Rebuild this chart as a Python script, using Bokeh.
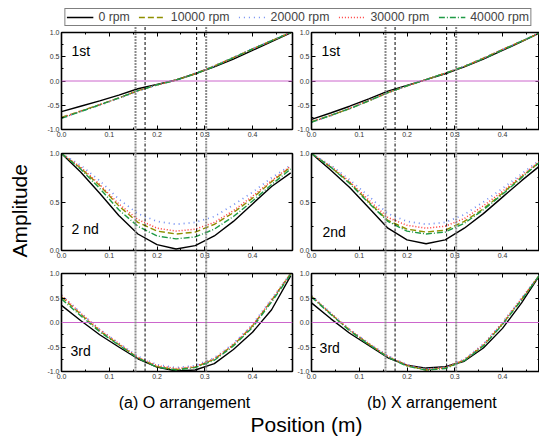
import math
from bokeh.plotting import figure
from bokeh.layouts import column, row
from bokeh.models import (LinearAxis, SingleIntervalTicker, Span, Label, Legend,
                          LegendItem, Range1d, NumeralTickFormatter)
from bokeh.core.properties import value
from bokeh.embed import file_html
from bokeh.resources import INLINE

# ---------------- data ----------------
positions = [0.00, 0.04, 0.08, 0.12, 0.16, 0.20, 0.24, 0.28, 0.32, 0.36, 0.40, 0.44, 0.48]
speeds = ["0 rpm", "10000 rpm", "20000 rpm", "30000 rpm", "40000 rpm"]
mode_labels_O = ["1st", "2 nd", "3rd"]
mode_labels_X = ["1st", "2nd", "3rd"]
arrangement_titles = ["(a) O arrangement", "(b) X arrangement"]
bearing_positions = [0.155, 0.175, 0.283, 0.303]

# O arrangement
O_1st_0 = [-0.63, -0.52, -0.41, -0.29, -0.16, -0.07, 0.02, 0.15, 0.29, 0.45, 0.63, 0.81, 0.99]
O_1st_10000 = [-0.75, -0.62, -0.49, -0.35, -0.20, -0.08, 0.02, 0.15, 0.31, 0.48, 0.66, 0.83, 1.00]
O_1st_20000 = [-0.77, -0.63, -0.50, -0.36, -0.21, -0.08, 0.02, 0.16, 0.31, 0.49, 0.67, 0.84, 1.00]
O_1st_30000 = [-0.76, -0.62, -0.49, -0.35, -0.20, -0.08, 0.02, 0.15, 0.31, 0.48, 0.66, 0.83, 1.00]
O_1st_40000 = [-0.77, -0.63, -0.49, -0.35, -0.20, -0.08, 0.02, 0.15, 0.30, 0.48, 0.66, 0.83, 1.00]

O_2nd_0 = [1.00, 0.81, 0.59, 0.36, 0.17, 0.06, 0.015, 0.05, 0.15, 0.30, 0.48, 0.66, 0.80]
O_2nd_10000 = [1.00, 0.85, 0.67, 0.46, 0.29, 0.20, 0.17, 0.19, 0.27, 0.39, 0.54, 0.71, 0.86]
O_2nd_20000 = [1.00, 0.88, 0.72, 0.53, 0.38, 0.30, 0.27, 0.29, 0.35, 0.47, 0.60, 0.75, 0.88]
O_2nd_30000 = [1.00, 0.86, 0.68, 0.48, 0.32, 0.23, 0.20, 0.22, 0.29, 0.41, 0.56, 0.72, 0.87]
O_2nd_40000 = [1.00, 0.84, 0.64, 0.42, 0.25, 0.15, 0.12, 0.14, 0.22, 0.35, 0.51, 0.68, 0.84]

O_3rd_0 = [0.35, 0.04, -0.25, -0.50, -0.74, -0.91, -0.99, -0.97, -0.84, -0.55, -0.20, 0.26, 0.95]
O_3rd_10000 = [0.52, 0.17, -0.17, -0.45, -0.72, -0.90, -0.96, -0.91, -0.75, -0.46, -0.07, 0.45, 1.00]
O_3rd_20000 = [0.56, 0.20, -0.14, -0.42, -0.69, -0.86, -0.92, -0.88, -0.72, -0.43, -0.04, 0.48, 1.00]
O_3rd_30000 = [0.55, 0.19, -0.15, -0.43, -0.71, -0.88, -0.94, -0.90, -0.74, -0.45, -0.06, 0.46, 1.00]
O_3rd_40000 = [0.48, 0.14, -0.19, -0.46, -0.73, -0.91, -0.97, -0.92, -0.77, -0.48, -0.10, 0.42, 0.98]

# X arrangement
X_1st_0 = [-0.79, -0.66, -0.52, -0.37, -0.21, -0.09, 0.03, 0.15, 0.29, 0.45, 0.63, 0.81, 1.00]
X_1st_10000 = [-0.84, -0.71, -0.57, -0.41, -0.24, -0.10, 0.03, 0.16, 0.30, 0.47, 0.65, 0.82, 1.00]
X_1st_20000 = [-0.85, -0.72, -0.57, -0.41, -0.24, -0.10, 0.03, 0.16, 0.31, 0.47, 0.65, 0.83, 1.00]
X_1st_30000 = [-0.84, -0.71, -0.56, -0.40, -0.24, -0.10, 0.03, 0.16, 0.30, 0.47, 0.65, 0.82, 1.00]
X_1st_40000 = [-0.85, -0.71, -0.57, -0.41, -0.24, -0.10, 0.03, 0.16, 0.30, 0.46, 0.64, 0.82, 1.00]

X_2nd_0 = [1.00, 0.83, 0.65, 0.44, 0.23, 0.11, 0.07, 0.11, 0.23, 0.38, 0.55, 0.72, 0.88]
X_2nd_10000 = [1.00, 0.86, 0.70, 0.50, 0.31, 0.22, 0.19, 0.21, 0.30, 0.43, 0.59, 0.76, 0.92]
X_2nd_20000 = [1.00, 0.88, 0.73, 0.56, 0.38, 0.30, 0.27, 0.29, 0.37, 0.50, 0.64, 0.79, 0.94]
X_2nd_30000 = [1.00, 0.87, 0.71, 0.52, 0.34, 0.26, 0.23, 0.25, 0.33, 0.46, 0.61, 0.77, 0.93]
X_2nd_40000 = [1.00, 0.86, 0.69, 0.49, 0.30, 0.20, 0.17, 0.19, 0.28, 0.42, 0.58, 0.75, 0.92]

X_3rd_0 = [0.40, 0.08, -0.22, -0.47, -0.72, -0.87, -0.93, -0.90, -0.79, -0.52, -0.12, 0.40, 1.00]
X_3rd_10000 = [0.53, 0.18, -0.16, -0.44, -0.70, -0.88, -0.97, -0.93, -0.77, -0.47, -0.03, 0.47, 1.00]
X_3rd_20000 = [0.55, 0.20, -0.14, -0.42, -0.68, -0.86, -0.95, -0.92, -0.75, -0.44, 0.00, 0.50, 1.00]
X_3rd_30000 = [0.54, 0.19, -0.15, -0.43, -0.69, -0.87, -0.96, -0.92, -0.76, -0.45, -0.01, 0.49, 1.00]
X_3rd_40000 = [0.52, 0.17, -0.17, -0.45, -0.71, -0.89, -0.97, -0.94, -0.78, -0.48, -0.04, 0.46, 1.00]

O_modes = [
    [O_1st_0, O_1st_10000, O_1st_20000, O_1st_30000, O_1st_40000],
    [O_2nd_0, O_2nd_10000, O_2nd_20000, O_2nd_30000, O_2nd_40000],
    [O_3rd_0, O_3rd_10000, O_3rd_20000, O_3rd_30000, O_3rd_40000],
]
X_modes = [
    [X_1st_0, X_1st_10000, X_1st_20000, X_1st_30000, X_1st_40000],
    [X_2nd_0, X_2nd_10000, X_2nd_20000, X_2nd_30000, X_2nd_40000],
    [X_3rd_0, X_3rd_10000, X_3rd_20000, X_3rd_30000, X_3rd_40000],
]
mode_y_ranges = [(-1.0, 1.0), (0.0, 1.0), (-1.0, 1.0)]

# ---------------- styles / layout ----------------
FONT = "Liberation Sans"
series_colors = ["#000000", "#8f8f00", "#6f8cf2", "#ff3a3a", "#1f9a45"]
series_dashes = ["solid", "6 3", "1 4", "1 2", "6 2 1 2"]
series_widths = [1.4, 1.4, 1.7, 1.5, 1.4]
bearing_colors = ["#8a8a8a", "#000000", "#000000", "#8a8a8a"]
bearing_widths = [2.0, 1.0, 1.0, 2.0]
bearing_dashes = ["2 1", "3 2", "3 2", "2 1"]

PX_PER_UNIT = 477.5
FRAME_W = [231, 228]
FRAME_H = [97, 97, 98]
B_TOP = [6, 12, 11]
B_BOTTOM = [12, 12, 39]
B_LEFT = [61, 17]
B_RIGHT = [2, 0]
TOTAL_W = 539

label_pos = {  # panel label positions (data units)
    (0, 0): (0.021, 0.46), (0, 1): (0.021, 0.14), (0, 2): (0.019, -0.755),
    (1, 0): (0.021, 0.46), (1, 1): (0.023, 0.11), (1, 2): (0.017, -0.675),
}


def style_axis(ax, show_labels):
    ax.axis_line_color = "black"
    ax.axis_line_width = 1.6
    ax.major_tick_in = 4
    ax.major_tick_out = 0
    ax.minor_tick_in = 2
    ax.minor_tick_out = 0
    ax.major_tick_line_color = "black"
    ax.minor_tick_line_color = "black"
    ax.major_tick_line_width = 1
    ax.minor_tick_line_width = 1
    if show_labels:
        ax.major_label_text_font = FONT
        ax.major_label_text_font_size = "7px"
        ax.major_label_text_color = "#333333"
        ax.major_label_standoff = 2
    else:
        ax.major_label_text_font_size = "1px"
        ax.major_label_text_color = None
        ax.major_label_standoff = 0


def make_panel(col, mode):
    modes = O_modes if col == 0 else X_modes
    labels = mode_labels_O if col == 0 else mode_labels_X
    y0, y1 = mode_y_ranges[mode]
    x_end = FRAME_W[col] / PX_PER_UNIT
    p = figure(width=B_LEFT[col] + FRAME_W[col] + B_RIGHT[col],
               height=B_TOP[mode] + FRAME_H[mode] + B_BOTTOM[mode],
               x_range=Range1d(0, x_end), y_range=Range1d(y0, y1),
               output_backend="svg", toolbar_location=None,
               min_border_left=B_LEFT[col], min_border_right=B_RIGHT[col],
               min_border_top=B_TOP[mode], min_border_bottom=B_BOTTOM[mode])
    p.grid.visible = False
    p.outline_line_color = "black"
    p.outline_line_width = 1
    p.background_fill_color = "white"
    p.border_fill_color = "white"

    xt = SingleIntervalTicker(interval=0.1, num_minor_ticks=2)
    yt = SingleIntervalTicker(interval=0.5, num_minor_ticks=2)
    fmt = NumeralTickFormatter(format="0.0")
    p.xaxis[0].ticker = xt
    p.xaxis[0].formatter = fmt
    p.yaxis[0].ticker = yt
    p.yaxis[0].formatter = fmt
    style_axis(p.xaxis[0], True)
    style_axis(p.yaxis[0], True)
    top_ax = LinearAxis(ticker=xt)
    right_ax = LinearAxis(ticker=yt)
    style_axis(top_ax, False)
    style_axis(right_ax, False)
    p.add_layout(top_ax, "above")
    p.add_layout(right_ax, "right")

    if y0 < 0 < y1:
        p.add_layout(Span(location=0, dimension="width", line_color="#cc66cc", line_width=1))

    for i in range(len(speeds)):
        p.line(positions, modes[mode][i], line_color=series_colors[i],
               line_dash=series_dashes[i], line_width=series_widths[i])

    # bearing position markers (extend through the gaps between panels)
    lo = y0 if mode == 2 else y0 - 3
    for i, bx in enumerate(bearing_positions):
        p.segment(x0=[bx], y0=[lo], x1=[bx], y1=[y1 + 3],
                  line_color=bearing_colors[i], line_width=bearing_widths[i],
                  line_dash=bearing_dashes[i], level="overlay")

    lx, ly = label_pos[(col, mode)]
    p.add_layout(Label(x=lx, y=ly, text=labels[mode], text_font=FONT,
                       text_font_size="14px", text_color="black"))

    if mode == 1 and col == 0:
        p.text(x=[-0.088], y=[0.41], text=["Amplitude"], angle=math.pi / 2,
               text_align="center", text_baseline="middle",
               text_font=value(FONT), text_font_size="21px", text_color="black",
               level="overlay")
    if mode == 2:
        cx = 0.2576 if col == 0 else 0.252
        p.text(x=[cx], y=[-1.63], text=[arrangement_titles[col]], text_align="center",
               text_baseline="alphabetic", text_font=value(FONT), text_font_size="16px",
               text_color="black", level="overlay")
    return p


# legend figure (its line renderers sit outside the visible range; only the legend shows)
leg_fig = figure(width=TOTAL_W, height=26, x_range=(10, 11), y_range=(10, 11),
                 output_backend="svg", toolbar_location=None, min_border=0,
                 x_axis_location=None, y_axis_location=None)
leg_fig.grid.visible = False
leg_fig.outline_line_color = None
items = []
for i, s in enumerate(speeds):
    r = leg_fig.line(positions, O_modes[0][i],
                     line_color=series_colors[i], line_dash=series_dashes[i],
                     line_width=series_widths[i])
    items.append(LegendItem(label=s, renderers=[r]))
legend = Legend(items=items, orientation="horizontal", location="top_right",
                glyph_width=27, glyph_height=12, label_height=12, label_standoff=5,
                spacing=9, padding=1, margin=8,
                label_text_font=FONT, label_text_font_size="12.3px",
                border_line_color="black", border_line_width=1.6,
                background_fill_color="white", background_fill_alpha=1)
leg_fig.add_layout(legend)

# bottom caption figure
bot_fig = figure(width=TOTAL_W, height=31, x_range=(0, TOTAL_W), y_range=(0, 31),
                 output_backend="svg", toolbar_location=None, min_border=0,
                 x_axis_location=None, y_axis_location=None)
bot_fig.grid.visible = False
bot_fig.outline_line_color = None
bot_fig.add_layout(Label(x=306, y=6, text="Position (m)", text_align="center",
                         text_font=FONT, text_font_size="21px", text_color="black"))

left_col = column([make_panel(0, m) for m in range(3)], spacing=0)
right_col = column([make_panel(1, m) for m in range(3)], spacing=0)
layout = column(leg_fig, row(left_col, right_col, spacing=0), bot_fig, spacing=0)

open("out.html", "w").write(file_html(layout, INLINE))
